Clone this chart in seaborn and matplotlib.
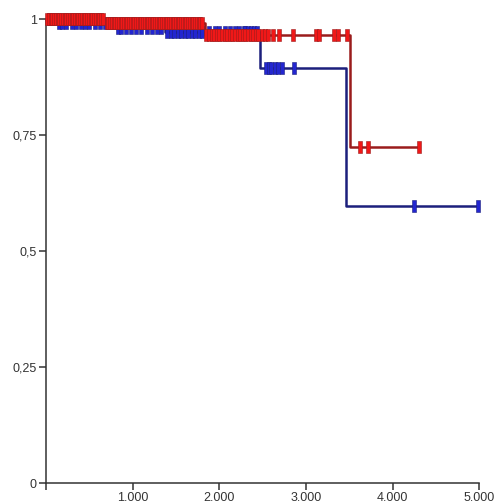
import numpy as np
import pandas as pd
import matplotlib
matplotlib.use("Agg")
import matplotlib.pyplot as plt
import seaborn as sns
from matplotlib.path import Path

# ---- data ----
blue_event_times = [0, 130, 800, 1370, 2470, 3460]
blue_survival    = [1.0, 0.992, 0.981, 0.973, 0.895, 0.598]
blue_end = 4990
blue_censor = [30, 70, 110, 150, 190, 230, 300, 350, 400, 450, 500, 560, 620, 680,
               740, 790, 830, 870, 920, 980, 1040, 1100, 1160, 1220, 1280, 1330,
               1400, 1440, 1480, 1520, 1560, 1600, 1640, 1680, 1720, 1760, 1800,
               1880, 1950, 2000, 2060, 2120, 2180, 2230, 2280, 2300, 2330, 2370,
               2400, 2440, 2540, 2570, 2600, 2640, 2680, 2720, 2860, 4250, 4990]

red_event_times = [0, 680, 1830, 3506]
red_survival    = [1.0, 0.991, 0.966, 0.725]
red_end = 4300
red_censor = [15, 35, 55, 75, 95, 115, 135, 155, 175, 195, 215, 235, 255, 275, 295,
              315, 335, 355, 375, 395, 415, 435, 455, 475, 495, 515, 535, 555, 575,
              595, 615, 640, 660, 700, 720, 740, 760, 780, 800, 820, 840, 860, 880,
              900, 920, 940, 960, 980, 1000, 1020, 1040, 1060, 1080, 1100, 1120,
              1140, 1160, 1180, 1200, 1220, 1240, 1260, 1280, 1300, 1320, 1340,
              1360, 1380, 1400, 1420, 1440, 1460, 1480, 1500, 1520, 1540, 1560,
              1580, 1600, 1620, 1640, 1660, 1680, 1700, 1720, 1740, 1760, 1780,
              1800, 1850, 1880, 1910, 1940, 1970, 2000, 2030, 2060, 2090, 2120,
              2150, 2180, 2210, 2240, 2270, 2300, 2330, 2360, 2390, 2420, 2450,
              2490, 2525, 2560, 2620, 2690, 2850, 3115, 3150, 3320, 3370, 3470,
              3622, 3714, 4300]

x_ticks = [0, 1000, 2000, 3000, 4000, 5000]
x_tick_labels = ["", "1.000", "2.000", "3.000", "4.000", "5.000"]
y_ticks = [0, 0.25, 0.5, 0.75, 1]
y_tick_labels = ["0", "0,25", "0,5", "0,75", "1"]

# ---- styling ----
sns.set_style("white")
plt.rcParams["font.family"] = ["Liberation Sans", "DejaVu Sans"]

fig = plt.figure(figsize=(4.98, 5.03), dpi=100)
ax = fig.add_axes([46 / 498, 1 - 483 / 503, (479.3 - 46) / 498, (483 - 19) / 503])

rect = Path([(-0.14, -0.5), (0.14, -0.5), (0.14, 0.5), (-0.14, 0.5), (-0.14, -0.5)],
            [Path.MOVETO, Path.LINETO, Path.LINETO, Path.LINETO, Path.CLOSEPOLY])


def step_df(times, surv, end):
    t = list(times) + [end]
    s = list(surv) + [surv[-1]]
    return pd.DataFrame({"time": t, "surv": s})


def censor_df(times, ev_times, surv):
    idx = np.searchsorted(np.array(ev_times), np.array(times), side="right") - 1
    return pd.DataFrame({"time": times, "surv": np.array(surv)[idx]})


groups = [
    (blue_event_times, blue_survival, blue_end, blue_censor, "#1c1f7c", "#2326d0"),
    (red_event_times, red_survival, red_end, red_censor, "#9a1c1c", "#f01818"),
]

for ev, sv, end, cens, lc, fc in groups:
    d = step_df(ev, sv, end)
    sns.lineplot(data=d, x="time", y="surv", ax=ax, drawstyle="steps-post",
                 color=lc, linewidth=1.8, clip_on=False, zorder=3)
    c = censor_df(cens, ev, sv)
    sns.scatterplot(data=c, x="time", y="surv", ax=ax, marker=rect, s=70,
                    color=fc, edgecolor=lc, linewidth=0.4, clip_on=False, zorder=4)

ax.set_xlim(0, 5000)
ax.set_ylim(0, 1)
ax.set_xticks(x_ticks)
ax.set_xticklabels(x_tick_labels)
ax.set_yticks(y_ticks)
ax.set_yticklabels(y_tick_labels)
ax.set_xlabel("")
ax.set_ylabel("")
for s in ["top", "right"]:
    ax.spines[s].set_visible(False)
for s in ["left", "bottom"]:
    ax.spines[s].set_color("#333333")
    ax.spines[s].set_linewidth(1.1)
ax.tick_params(axis="both", direction="out", length=5, width=1.1, color="#333333",
               labelsize=9, labelcolor="#333333", pad=1.5, left=True, bottom=True)

fig.savefig("out.png", dpi=100)
